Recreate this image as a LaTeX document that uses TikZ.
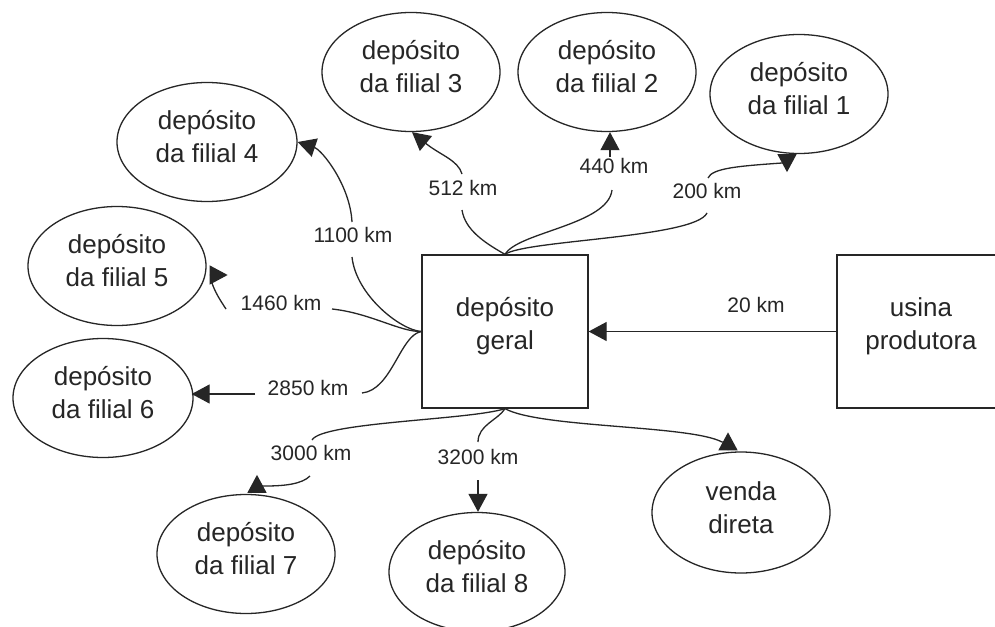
\documentclass[tikz,border=0pt]{standalone}
\usepackage{fontspec}
\setmainfont{Liberation Sans}
\usetikzlibrary{shapes.geometric,arrows.meta}
\begin{document}
\begin{tikzpicture}[x=1pt,y=-1pt,
  conn/.style={line width=1.3pt, draw=black!85},
  arr/.style={conn, -{Triangle[length=18pt,width=19pt]}},
  elli/.style={ellipse, draw=black!85, line width=1.3pt, minimum width=178pt, minimum height=119pt, inner sep=0pt},
  etext/.style={align=center, font=\fontsize{26}{33}\selectfont, text=black!85, yshift=5pt},
  boxn/.style={rectangle, draw=black!85, line width=1.3pt, minimum width=166pt, minimum height=153pt, inner sep=0pt},
  km/.style={font=\fontsize{21}{25}\selectfont, text=black!85, inner sep=0pt}
]
\useasboundingbox (0,0) rectangle (995,626);
\clip (0,0) rectangle (995,626);
\fill[white] (0,0) rectangle (995,626);

% main nodes
\node[boxn, label={[etext]center:{depósito\\geral}}] (geral) at (505,331.5) {};
\node[boxn, minimum width=168pt, label={[etext]center:{usina\\produtora}}] (usina) at (921,331.5) {};

\node[elli, label={[etext]center:{depósito\\da filial 1}}] (f1) at (799,94) {};
\node[elli, label={[etext]center:{depósito\\da filial 2}}] (f2) at (607,72) {};
\node[elli, label={[etext]center:{depósito\\da filial 3}}] (f3) at (411,72) {};
\node[elli, minimum width=180pt, label={[etext]center:{depósito\\da filial 4}}] (f4) at (207,142) {};
\node[elli, label={[etext]center:{depósito\\da filial 5}}] (f5) at (117,266) {};
\node[elli, minimum width=180pt, label={[etext]center:{depósito\\da filial 6}}] (f6) at (103,398) {};
\node[elli, label={[etext]center:{depósito\\da filial 7}}] (f7) at (246,554) {};
\node[elli, minimum width=176pt, label={[etext]center:{depósito\\da filial 8}}] (f8) at (477,572) {};
\node[elli, minimum height=121pt, label={[etext]center:{venda\\direta}}] (venda) at (741,512.5) {};

% distance labels
\node[km] (k512) at (463,188) {512 km};
\node[km] (k440) at (614,166) {440 km};
\node[km] (k200) at (707,191) {200 km};
\node[km] (k1100) at (353,235) {1100 km};
\node[km] (k1460) at (281,303) {1460 km};
\node[km] (k2850) at (308,388) {2850 km};
\node[km] (k3000) at (311,453) {3000 km};
\node[km] (k3200) at (478,457) {3200 km};
\node[km] (k20) at (756,305) {20 km};

% 512 km
\draw[conn] (geral.north) .. controls (485,243) and (465,230) .. ([xshift=-1pt,yshift=-22pt]k512.center);
\draw[arr] ([xshift=-1pt,yshift=14pt]k512.center) .. controls (458,160) and (440,155) .. ([xshift=1pt]f3.south);
% 440 km
\draw[conn] (geral.north) .. controls (518,232) and (608,225) .. ([xshift=-2pt,yshift=-24pt]k440.center);
\draw[arr] ([xshift=-4pt,yshift=9pt]k440.center) -- ([xshift=3pt]f2.south);
% 200 km
\draw[conn] (geral.north) .. controls (525,240) and (695,238) .. ([yshift=-22pt]k200.center);
\draw[arr] ([xshift=1pt,yshift=13pt]k200.center) .. controls (712,168) and (740,166) .. (782,163) -- (787,163) -- ([xshift=-12pt,yshift=-18pt]f1.south);
% 1100 km
\draw[conn] (geral.west) .. controls (400,330) and (356,295) .. ([xshift=-1pt,yshift=-22pt]k1100.center);
\draw[arr] ([xshift=-1pt,yshift=13pt]k1100.center) .. controls (350,185) and (322,150) .. (f4.east);
% 1460 km
\draw[conn] (geral.west) .. controls (400,332) and (370,313) .. ([xshift=51pt,yshift=-6pt]k1460.center);
\draw[arr] ([xshift=-55pt,yshift=-6pt]k1460.center) .. controls (220,300) and (215,292) .. (212,283) -- (212,275) -- ([xshift=21pt,yshift=-9pt]f5.east);
% 2850 km
\draw[conn] (geral.west) .. controls (400,335) and (392,390) .. ([xshift=54pt,yshift=-5pt]k2850.center);
\draw[arr] ([xshift=-53pt,yshift=-6pt]k2850.center) -- ([xshift=-2pt,yshift=4pt]f6.east);
% 3000 km
\draw[conn] (geral.south) .. controls (470,420) and (322,422) .. ([xshift=1pt,yshift=13pt]k3000.center);
\draw[arr] ([xshift=-1pt,yshift=-23pt]k3000.center) .. controls (302,484) and (285,486) .. (265,486) -- (257,486) -- ([xshift=11pt,yshift=19pt]f7.north);
% 3200 km
\draw[conn] (geral.south) .. controls (498,420) and (478,425) .. ([yshift=15pt]k3200.center);
\draw[arr] ([yshift=-23pt]k3200.center) -- ([xshift=1pt]f8.north);
% venda direta
\draw[arr] (geral.south) .. controls (540,428) and (690,425) .. (722,442) -- (728,442) -- ([xshift=-13pt,yshift=19pt]venda.north);
% 20 km
\draw[arr] (usina.west) -- (geral.east);
\end{tikzpicture}
\end{document}
